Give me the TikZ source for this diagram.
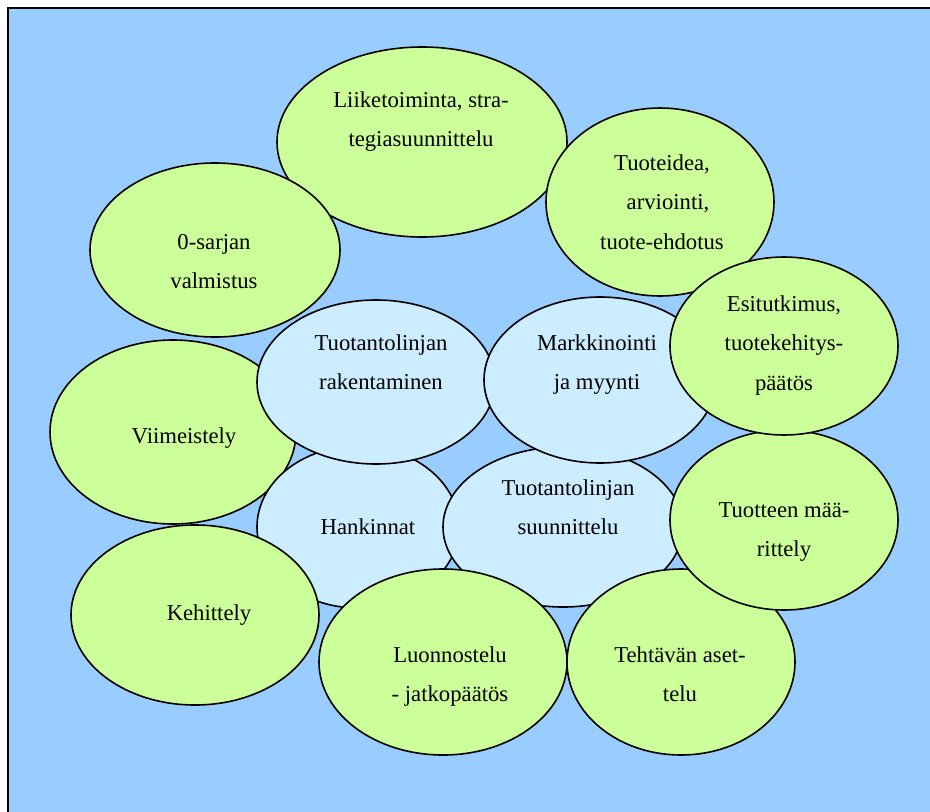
\documentclass[tikz,border=0pt]{standalone}
\usepackage{fontspec}
\setmainfont{Liberation Serif}
\usetikzlibrary{shapes.geometric}
\definecolor{bgblue}{HTML}{99CCFF}
\definecolor{lgreen}{HTML}{CCFF99}
\definecolor{lblue}{HTML}{CCECFF}
\newcommand{\twolines}[1]{\begin{tabular}[t]{@{}c@{}}#1\end{tabular}}
\begin{document}
\begin{tikzpicture}[x=1pt,y=-1pt,
  bub/.style={ellipse, draw=black, line width=1.6pt, inner sep=0pt, outer sep=0pt},
  gbub/.style={bub, fill=lgreen},
  bbub/.style={bub, fill=lblue},
  lab/.style={anchor=base, inner sep=0pt, font=\fontsize{22.7}{39.5}\selectfont, text=black}]
\useasboundingbox (0,0) rectangle (930,812);
\begin{scope}
  \clip (0,0) rectangle (930,812);
  \draw[fill=bgblue, line width=2pt] (8,8) rectangle (960,840);
\end{scope}
% lower layer green
\node[gbub, minimum width=290pt, minimum height=190pt] (liik) at (422,142) {};
\node[gbub, minimum width=250pt, minimum height=174pt] (nolla) at (215,250) {};
\node[gbub, minimum width=246pt, minimum height=184pt] (viim) at (173,432) {};
% blue
\node[bbub, minimum width=202pt, minimum height=162pt] (hank) at (358,527) {};
\node[bbub, minimum width=238pt, minimum height=164pt] (rak) at (376,382) {};
\node[bbub, minimum width=240pt, minimum height=160pt] (suun) at (563,527) {};
\node[bbub, minimum width=232pt, minimum height=166pt] (mark) at (600,380) {};
% upper layer green
\node[gbub, minimum width=248pt, minimum height=180pt] (keh) at (195,615) {};
\node[gbub, minimum width=248pt, minimum height=186pt] (luon) at (443,662) {};
\node[gbub, minimum width=228pt, minimum height=186pt] (teht) at (681,662) {};
\node[gbub, minimum width=228pt, minimum height=180pt] (maar) at (784,520) {};
\node[gbub, minimum width=228pt, minimum height=188pt] (idea) at (660,202) {};
\node[gbub, minimum width=228pt, minimum height=178pt] (esit) at (784,346) {};
% texts
\node[lab] (tliik) at (421,107) {\twolines{Liiketoiminta, stra-\\tegiasuunnittelu}};
\node[lab] (tidea) at (662,170) {\twolines{Tuoteidea,\hspace{14pt}\\\hspace{12pt}arviointi,\\tuote-ehdotus}};
\node[lab] (tnolla) at (214,249) {\twolines{0-sarjan\\valmistus}};
\node[lab] (tesit) at (784,311) {\twolines{Esitutkimus,\\tuotekehitys-\\päätös}};
\node[lab] (trak) at (381,350) {\twolines{Tuotantolinjan\\rakentaminen}};
\node[lab] (tmark) at (597,350) {\twolines{Markkinointi\\ja myynti}};
\node[lab] (tviim) at (184,443) {Viimeistely};
\node[lab] (thank) at (368,534) {Hankinnat};
\node[lab] (tsuun) at (568,495) {\twolines{Tuotantolinjan\\suunnittelu}};
\node[lab] (tmaar) at (784,517) {\twolines{Tuotteen mää-\\rittely}};
\node[lab] (tkeh) at (209,620) {Kehittely};
\node[lab] (tluon) at (450,662) {\twolines{Luonnostelu\\- jatkopäätös}};
\node[lab] (tteht) at (680,662) {\twolines{Tehtävän aset-\\telu}};
\end{tikzpicture}
\end{document}
